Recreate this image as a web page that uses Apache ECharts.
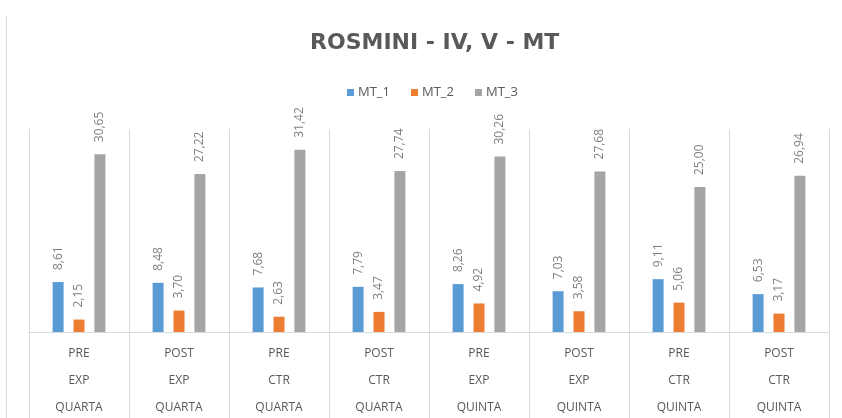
<!DOCTYPE html>
<html>
<head>
<meta charset="utf-8">
<script src="https://cdn.jsdelivr.net/npm/echarts@6/dist/echarts.min.js"></script>
<style>
  html, body { margin: 0; padding: 0; background: #fff; }
  #main { width: 842px; height: 418px; }
</style>
</head>
<body>
<div id="main"></div>
<script>
// categories (3 levels, Excel multi-level axis)
var fase = ["PRE", "POST", "PRE", "POST", "PRE", "POST", "PRE", "POST"];
var gruppo = ["EXP", "EXP", "CTR", "CTR", "EXP", "EXP", "CTR", "CTR"];
var classe = ["QUARTA", "QUARTA", "QUARTA", "QUARTA", "QUINTA", "QUINTA", "QUINTA", "QUINTA"];

var seriesNames = ["MT_1", "MT_2", "MT_3"];
var mt1 = [8.61, 8.48, 7.68, 7.79, 8.26, 7.03, 9.11, 6.53];
var mt2 = [2.15, 3.70, 2.63, 3.47, 4.92, 3.58, 5.06, 3.17];
var mt3 = [30.65, 27.22, 31.42, 27.74, 30.26, 27.68, 25.00, 26.94];

var colors = ["#5b9bd5", "#ed7d31", "#a5a5a5"];
var font = "Open Sans";

var categories = fase.map(function (f, i) {
  return f + "\n" + gruppo[i] + "\n" + classe[i];
});

var chart = echarts.init(document.getElementById("main"));

function makeSeries(name, data, i) {
  return {
    name: name,
    type: "bar",
    data: data,
    barWidth: 11,
    barGap: "90%",
    itemStyle: { color: colors[i] },
    label: {
      show: true,
      position: "top",
      rotate: 90,
      align: "left",
      verticalAlign: "middle",
      distance: 12,
      color: "#7f7f7f",
      fontFamily: font,
      fontSize: 12,
      formatter: function (p) {
        return p.value.toFixed(2).replace(".", ",");
      }
    }
  };
}

chart.setOption({
  animation: false,
  backgroundColor: "#fff",
  title: {
    text: "ROSMINI - IV, V - MT",
    left: 305,
    top: 27,
    textStyle: {
      color: "#595959",
      fontFamily: "DejaVu Sans",
      fontWeight: "bold",
      fontSize: 22
    }
  },
  legend: {
    data: seriesNames,
    top: 81,
    left: 342,
    icon: "rect",
    itemWidth: 7,
    itemHeight: 7,
    itemGap: 21,
    textStyle: { color: "#595959", fontFamily: font, fontSize: 13, padding: [0, 0, 0, -1] }
  },
  graphic: [{
    type: "line",
    shape: { x1: 6.5, y1: 16, x2: 6.5, y2: 418 },
    style: { stroke: "#d9d9d9", lineWidth: 1 }
  }],
  grid: { left: 29, right: 13, top: 129, bottom: 86, outerBoundsMode: "none", containLabel: false },
  xAxis: {
    type: "category",
    data: categories,
    axisLine: { lineStyle: { color: "#d9d9d9" } },
    axisTick: { show: true, length: 86, lineStyle: { color: "#d9d9d9" } },
    splitLine: { show: true, lineStyle: { color: "#d9d9d9" } },
    axisLabel: {
      color: "#595959",
      fontFamily: font,
      fontSize: 12,
      lineHeight: 27,
      margin: 8
    }
  },
  yAxis: {
    type: "value",
    min: 0,
    max: 35,
    show: false,
    splitLine: { show: false }
  },
  series: [
    makeSeries(seriesNames[0], mt1, 0),
    makeSeries(seriesNames[1], mt2, 1),
    makeSeries(seriesNames[2], mt3, 2)
  ]
});
</script>
</body>
</html>
